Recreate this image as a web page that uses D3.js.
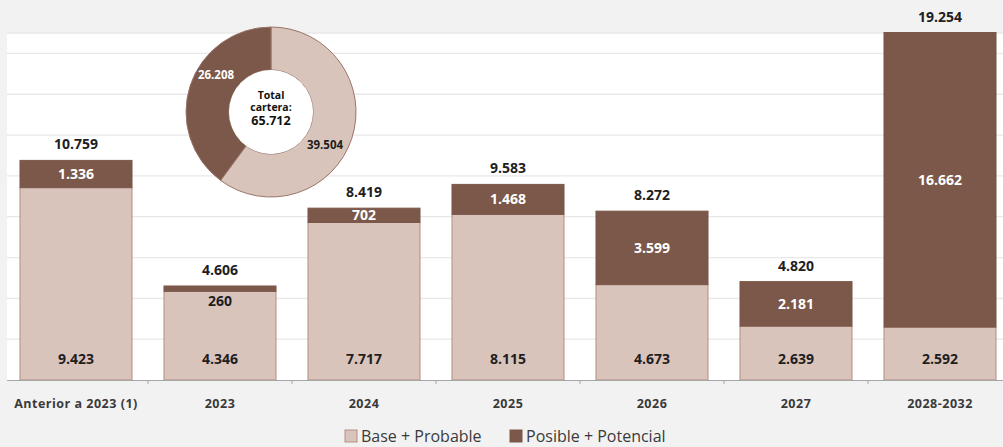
<!DOCTYPE html>
<html><head><meta charset="utf-8">
<script src="https://cdn.jsdelivr.net/npm/d3@7"></script>
<style>
html,body{margin:0;padding:0;background:#f2f2f2;}
svg{display:block;font-family:"Open Sans","Liberation Sans",sans-serif;}
</style></head><body>
<svg id="c" width="1003" height="447"></svg>
<script>
const categories = ["Anterior a 2023 (1)","2023","2024","2025","2026","2027","2028-2032"];
const baseProbable = [9423,4346,7717,8115,4673,2639,2592];
const posiblePotencial = [1336,260,702,1468,3599,2181,16662];
const totals = [10759,4606,8419,9583,8272,4820,19254];
const seriesNames = ["Base + Probable","Posible + Potencial"];
const donutValues = [39504,26208];
const donutTotal = 65712;
const yTicks = [0,2000,4000,6000,8000,10000,12000,14000,16000];

const lightC = "#d9c4bc", darkC = "#7b5849", lightStroke = "#b48f82", textC = "#1e1e1e";
const fmt = v => d3.format(",")(v).replace(/,/g,".");

const svg = d3.select("#c");
const plotL = 7, plotR = 1003, plotT = 33, plotB = 380;
svg.append("rect").attr("x",plotL).attr("y",plotT).attr("width",plotR-plotL).attr("height",plotB-plotT).attr("fill","#ffffff");

const x = d3.scaleBand().domain(categories).range([4,1012]).paddingInner(0.222).paddingOuter(0.111);
const y = d3.scaleLinear().domain([0,17000]).range([plotB,plotT]);

svg.append("g").selectAll("line").data(yTicks.slice(1).concat([17000])).join("line")
  .attr("x1",plotL).attr("x2",plotR).attr("y1",d=>y(d)).attr("y2",d=>y(d))
  .attr("stroke","#e8e8e8").attr("stroke-width",1.3);

svg.append("clipPath").attr("id","pc").append("rect")
  .attr("x",plotL).attr("y",plotT-1).attr("width",plotR-plotL).attr("height",plotB-plotT+1);

const bars = svg.append("g").attr("clip-path","url(#pc)");
categories.forEach((c,i)=>{
  const b = baseProbable[i], p = posiblePotencial[i];
  bars.append("rect").attr("x",x(c)).attr("width",x.bandwidth())
    .attr("y",y(b)).attr("height",y(0)-y(b)).attr("fill",lightC).attr("stroke",lightStroke).attr("stroke-width",1);
  bars.append("rect").attr("x",x(c)).attr("width",x.bandwidth())
    .attr("y",y(b+p)).attr("height",y(b)-y(b+p)).attr("fill",darkC).attr("stroke",darkC).attr("stroke-width",1);
});

const xAxis = d3.axisBottom(x).tickSize(0).tickPadding(19);
const ax = svg.append("g").attr("transform",`translate(0,${plotB})`).call(xAxis);
ax.select(".domain").remove();
ax.selectAll("text").attr("font-size",12.5).attr("font-weight","bold").attr("fill","#3a3a3a")
  .attr("letter-spacing","0.5").attr("font-family","'Open Sans',sans-serif");
svg.append("line").attr("x1",plotL).attr("x2",plotR).attr("y1",plotB+0.5).attr("y2",plotB+0.5).attr("stroke","#a6a6a6").attr("stroke-width",1.2);
const step = x.step();
d3.range(1,categories.length).forEach(k=>{
  const xx = x(categories[k]) - (step - x.bandwidth())/2;
  svg.append("line").attr("x1",xx).attr("x2",xx).attr("y1",plotB).attr("y2",plotB+4).attr("stroke","#a6a6a6");
});

const lab = svg.append("g").attr("font-weight","bold").attr("text-anchor","middle").attr("font-size",14);
categories.forEach((c,i)=>{
  const cx = x(c)+x.bandwidth()/2;
  const b = baseProbable[i], p = posiblePotencial[i], t = totals[i];
  lab.append("text").attr("x",cx).attr("y",y(0)-16).attr("fill",textC).text(fmt(b));
  const segH = y(b)-y(b+p);
  const topY = Math.max(y(b+p), plotT);
  if (segH < 10) {
    lab.append("text").attr("x",cx).attr("y",y(b)+15).attr("fill",textC).text(fmt(p));
  } else {
    lab.append("text").attr("x",cx).attr("y",(topY+y(b))/2+5).attr("fill","#ffffff").text(fmt(p));
  }
  lab.append("text").attr("x",cx).attr("y",topY-11).attr("fill",textC).text(fmt(t));
});

const dcx = 271, dcy = 112, rO = 85, rI = 42;
const pie = d3.pie().sort(null)(donutValues);
const arc = d3.arc().innerRadius(rI).outerRadius(rO);
const dg = svg.append("g").attr("transform",`translate(${dcx},${dcy})`);
dg.selectAll("path").data(pie).join("path").attr("d",arc)
  .attr("fill",(d,i)=>i===0?lightC:darkC).attr("stroke","#9a7567").attr("stroke-width",1);
dg.append("circle").attr("r",rI).attr("fill","#ffffff");
const lp = [[54,37,textC],[-55,-33,"#ffffff"]];
pie.forEach((d,i)=>{
  dg.append("text").attr("x",lp[i][0]).attr("y",lp[i][1]).attr("text-anchor","middle")
    .attr("font-size",11.5).attr("font-weight","bold").attr("fill",lp[i][2]).text(fmt(donutValues[i]));
});
["Total","cartera:",fmt(donutTotal)].forEach((t,k)=>{
  dg.append("text").attr("x",0).attr("y",[-13,-1,13][k]).attr("text-anchor","middle")
    .attr("font-size",k===2?12.5:10.5).attr("font-weight","bold").attr("fill","#111").text(t);
});

const leg = svg.append("g").attr("font-size",16);
const legX = [345,510];
seriesNames.forEach((n,i)=>{
  leg.append("rect").attr("x",legX[i]).attr("y",430).attr("width",12).attr("height",12)
    .attr("fill",i===0?lightC:darkC).attr("stroke",i===0?lightStroke:darkC);
  leg.append("text").attr("x",legX[i]+16).attr("y",442).attr("fill","#3a3a3a").text(n);
});
</script>
</body></html>
